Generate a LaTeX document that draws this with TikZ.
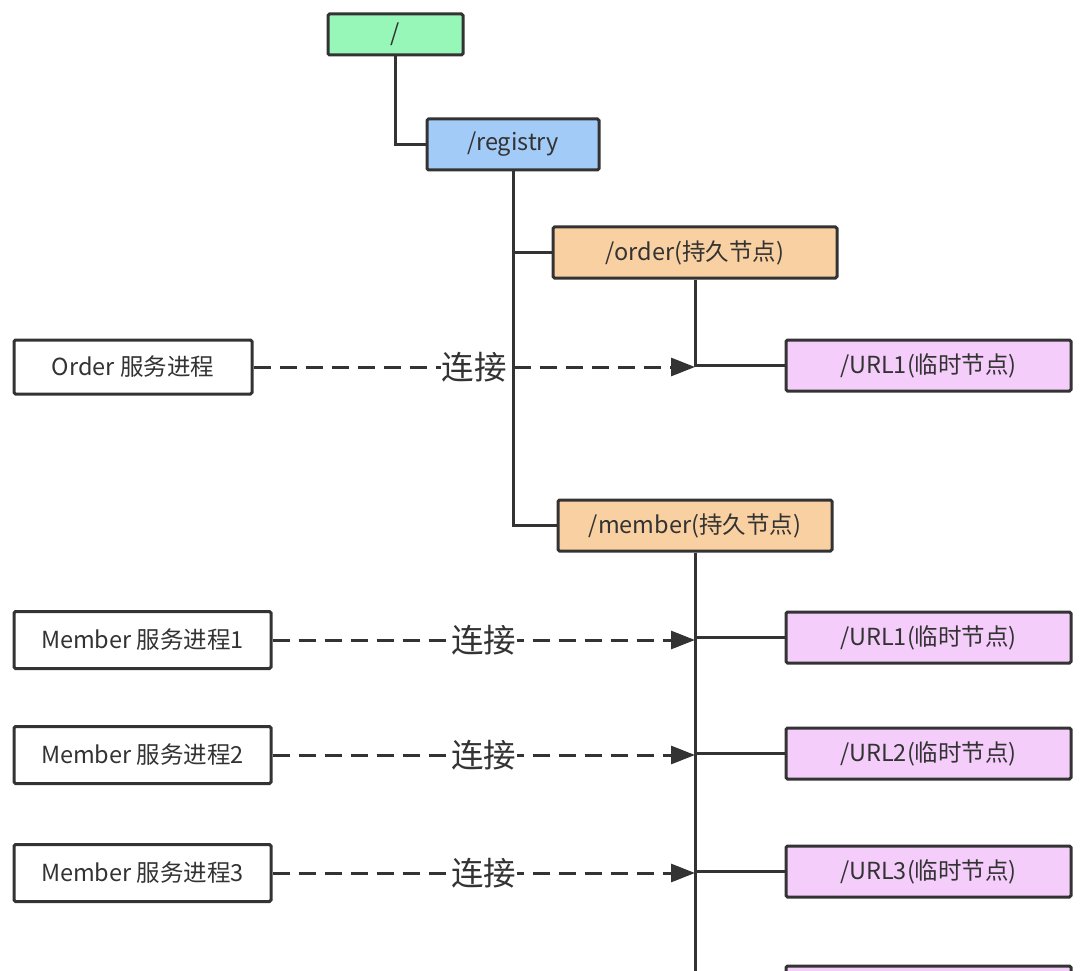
\documentclass[tikz,border=0pt]{standalone}
\usepackage{fontspec}
\setmainfont{Noto Sans CJK SC}
\usepackage{tikz}
\usetikzlibrary{arrows.meta, positioning, calc}
\definecolor{rootgreen}{HTML}{96F7B8}
\definecolor{regblue}{HTML}{A3CBF7}
\definecolor{persistorange}{HTML}{F9D0A1}
\definecolor{ephemeralpink}{HTML}{F4CDFA}
\definecolor{corpslate}{HTML}{333333}

\begin{document}
\begin{tikzpicture}[x=1pt, y=-1pt,
  font=\fontsize{23.5}{27}\selectfont, text=corpslate,
  zkbox/.style={draw=corpslate, line width=3pt, rounded corners=1.5pt, inner sep=0pt, minimum height=51pt},
  procbox/.style={zkbox, fill=white},
  link/.style={draw=corpslate, line width=3pt},
  conn/.style={draw=corpslate, line width=3pt, dash pattern=on 17pt off 9pt, -{Triangle[length=24pt, width=18pt]}},
  connlabel/.style={fill=white, inner sep=1pt, font=\fontsize{32.5}{36}\selectfont}]
  \useasboundingbox (0,0) rectangle (1080,971);
  \clip (0,0) rectangle (1080,971);

  \node[zkbox, fill=rootgreen, minimum width=135pt, minimum height=41pt] (root) at (395.5,34.5) {/};
  \node[zkbox, fill=regblue, minimum width=172pt] (registry) at (513,144.5) {/registry};
  \node[zkbox, fill=persistorange, minimum width=284pt] (order) at (695,252.5) {/order(持久节点)};
  \node[zkbox, fill=ephemeralpink, minimum width=285pt] (ourl1) at (928.5,365.5) {/URL1(临时节点)};
  \node[zkbox, fill=persistorange, minimum width=274pt] (member) at (695,525.5) {/member(持久节点)};
  \node[zkbox, fill=ephemeralpink, minimum width=285pt] (murl1) at (928.5,637.5) {/URL1(临时节点)};
  \node[zkbox, fill=ephemeralpink, minimum width=285pt] (murl2) at (928.5,753.5) {/URL2(临时节点)};
  \node[zkbox, fill=ephemeralpink, minimum width=285pt] (murl3) at (928.5,871.5) {/URL3(临时节点)};
  \node[zkbox, fill=ephemeralpink, minimum width=285pt] (murl4) at (928.5,991.5) {};

  \node[procbox, minimum width=238pt, minimum height=54pt] (oproc) at (133,367) {Order 服务进程};
  \node[procbox, minimum width=257pt, minimum height=57pt] (mproc1) at (142.5,640) {Member 服务进程1};
  \node[procbox, minimum width=257pt, minimum height=57pt] (mproc2) at (142.5,755) {Member 服务进程2};
  \node[procbox, minimum width=257pt, minimum height=57pt] (mproc3) at (142.5,873) {Member 服务进程3};

  \path[link] (root.south) |- (registry.west);
  \path[link] (registry.south) |- (order.west);
  \path[link] (registry.south) |- (member.west);
  \path[link] (order.south) |- (ourl1.west);
  \path[link] (member.south) |- (murl1.west);
  \path[link] (member.south) |- (murl2.west);
  \path[link] (member.south) |- (murl3.west);
  \path[link] (member.south) |- (murl4.west);

  \path[conn] (oproc.east) -- node[connlabel] (olabel) {连接} (oproc.east -| order.south);
  \path[conn] (mproc1.east) -- node[connlabel] (mlabel1) {连接} (mproc1.east -| member.south);
  \path[conn] (mproc2.east) -- node[connlabel] (mlabel2) {连接} (mproc2.east -| member.south);
  \path[conn] (mproc3.east) -- node[connlabel] (mlabel3) {连接} (mproc3.east -| member.south);
\end{tikzpicture}
\end{document}
